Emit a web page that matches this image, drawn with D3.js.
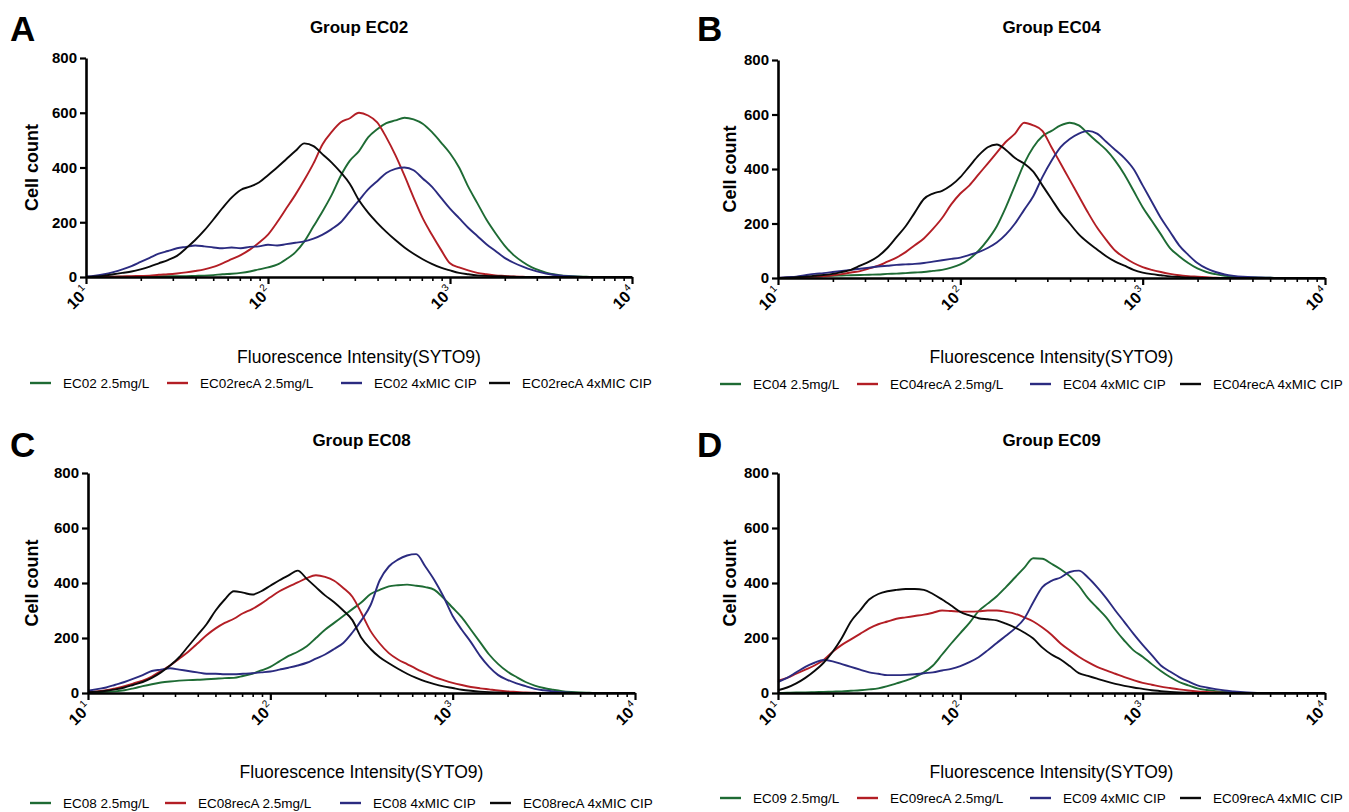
<!DOCTYPE html>
<html><head><meta charset="utf-8">
<script src="https://cdn.jsdelivr.net/npm/d3@7"></script>
<style>
body{margin:0;background:#fff}
svg{display:block;font-family:"Liberation Sans",Arial,Helvetica,sans-serif}
</style></head><body>
<svg id="chart" width="1349" height="812"></svg>
<script>
// histogram bin positions, log10(fluorescence intensity)
const binExponents = [1.00,1.05,1.10,1.15,1.20,1.25,1.30,1.35,1.40,1.45,
  1.50,1.55,1.60,1.65,1.70,1.75,1.80,1.85,1.90,1.95,
  2.00,2.05,2.10,2.15,2.20,2.25,2.30,2.35,2.40,2.45,
  2.50,2.55,2.60,2.65,2.70,2.75,2.80,2.85,2.90,2.95,
  3.00,3.05,3.10,3.15,3.20,3.25,3.30,3.35,3.40,3.45,
  3.50,3.55,3.60,3.65,3.70,3.75,3.80,3.85,3.90,3.95,4.00];

const groups = ["EC02","EC04","EC08","EC09"];
const conditions = [" 2.5mg/L","recA 2.5mg/L"," 4xMIC CIP","recA 4xMIC CIP"];
const colors = ["#1e6b34","#b31e25","#2b2b80","#0a0a0a"];

// Group EC02
const ec02_25 = [0,0,0,1,1,1,2,2,2,3, 3,3,4,5,7,10,12,15,20,28, 35,45,65,90,130,185,240,300,370,425, 460,510,540,562,572,582,576,560,530,492, 452,400,330,270,210,160,115,80,55,35, 22,12,7,4,2,1,0,0,0,0, 0];
const ec02recA_25 = [0,0,1,1,2,3,4,5,8,10, 13,17,22,28,37,50,65,80,100,125, 155,200,250,300,355,415,485,530,565,580, 600,590,565,510,445,370,290,215,155,100, 50,35,24,15,10,6,4,2,1,0, 0,0,0,0,0,0,0,0,0,0, 0];
const ec02_cip = [2,5,10,18,28,40,55,70,85,95, 105,110,115,112,108,105,108,105,110,112, 118,115,120,125,130,140,155,175,200,240, 280,320,350,380,395,400,390,360,330,290, 250,215,180,150,120,95,70,52,38,26, 17,10,6,3,1,0,0,0,0,0, 0];
const ec02recA_cip = [0,2,5,10,15,20,28,38,50,62, 77,105,135,170,210,252,290,318,330,345, 372,400,430,460,488,478,448,418,382,340, 280,235,198,165,135,108,85,65,48,34, 24,15,10,6,4,3,2,1,0,0, 0,0,0,0,0,0,0,0,0,0, 0];

// Group EC04
const ec04_25 = [0,1,2,3,5,6,8,9,10,11, 12,13,15,16,18,20,22,26,30,38, 50,70,100,140,190,260,340,420,480,520, 540,560,570,560,530,500,470,430,380,320, 260,210,160,110,80,55,35,22,14,8, 5,3,2,1,1,0,0,0,0,0, 0];
const ec04recA_25 = [0,1,2,3,5,7,10,14,20,25, 35,45,60,75,95,120,145,180,220,270, 310,340,380,420,460,500,530,570,560,540, 480,420,360,300,240,185,140,100,75,55, 40,30,22,15,10,7,5,3,1,0, 0,0,0,0,0,0,0,0,0,0, 0];
const ec04_cip = [0,3,5,10,15,18,22,26,30,34, 38,42,45,48,50,52,55,60,65,70, 75,85,95,110,130,160,200,250,300,370, 430,480,510,530,540,530,500,470,440,400, 340,280,220,170,120,85,55,35,22,13, 8,5,3,2,1,0,0,0,0,0, 0];
const ec04recA_cip = [0,1,3,5,8,11,15,22,30,45, 60,80,110,150,190,240,290,310,320,340, 370,410,450,480,490,470,440,420,390,340, 290,240,200,160,130,105,80,60,45,30, 20,14,10,6,4,2,1,0,0,0, 0,0,0,0,0,0,0,0,0,0, 0];

// Group EC08
const ec08_25 = [2,3,4,6,10,17,25,32,38,42, 45,47,48,50,52,54,55,62,70,82, 95,115,135,150,170,200,230,255,280,305, 330,360,375,388,392,394,390,385,375,345, 310,275,230,185,140,105,78,58,40,27, 18,12,7,4,2,1,0,0,0,0, 0];
const ec08recA_25 = [3,6,10,17,25,35,45,60,80,100, 125,150,180,210,235,255,270,290,305,325, 348,370,387,402,418,428,422,408,382,350, 290,225,180,145,122,105,88,72,58,47, 37,29,22,17,13,9,6,4,2,1, 0,0,0,0,0,0,0,0,0,0, 0];
const ec08_cip = [8,14,20,30,40,52,65,80,85,90, 85,80,75,70,70,68,68,70,72,75, 78,85,92,100,110,125,140,160,182,220, 265,320,410,460,485,500,505,460,410,350, 280,230,185,135,95,65,48,35,25,15, 10,6,3,1,0,0,0,0,0,0, 0];
const ec08recA_cip = [3,5,8,13,20,30,40,55,75,100, 130,170,210,250,300,340,370,365,358,370, 390,410,428,445,415,385,355,330,300,265, 200,160,130,108,88,70,55,42,32,24, 18,12,8,5,3,2,1,0,0,0, 0,0,0,0,0,0,0,0,0,0, 0];

// Group EC09
const ec09_25 = [0,1,2,2,3,4,5,6,8,10, 13,17,25,35,45,58,75,100,140,180, 218,255,298,325,352,385,420,455,490,488, 470,450,425,390,345,310,275,230,190,155, 132,105,80,58,40,28,17,11,7,4, 2,1,0,0,0,0,0,0,0,0, 0];
const ec09recA_25 = [45,55,70,85,100,120,150,175,195,215, 235,250,260,270,275,280,285,292,300,298, 296,296,297,300,300,295,288,275,260,238, 212,180,155,132,112,95,82,70,58,47, 37,30,23,18,13,9,6,4,2,1, 0,0,0,0,0,0,0,0,0,0, 0];
const ec09_cip = [40,55,75,95,110,120,115,105,95,85, 75,70,65,65,66,68,72,75,82,88, 98,112,130,155,182,208,235,270,330,385, 408,420,440,445,420,385,345,300,258,215, 175,138,100,78,58,42,28,20,14,9, 6,3,1,0,0,0,0,0,0,0, 0];
const ec09recA_cip = [10,20,35,55,80,110,150,200,260,300, 340,360,370,375,378,378,375,360,340,318, 295,282,272,268,264,252,238,220,198,165, 140,122,98,72,62,52,42,33,26,20, 15,10,7,4,2,1,0,0,0,0, 0,0,0,0,0,0,0,0,0,0, 0];

const groupSeries = [
  [ec02_25, ec02recA_25, ec02_cip, ec02recA_cip],
  [ec04_25, ec04recA_25, ec04_cip, ec04recA_cip],
  [ec08_25, ec08recA_25, ec08_cip, ec08recA_cip],
  [ec09_25, ec09recA_25, ec09_cip, ec09recA_cip]
];

const yTicks = [0,200,400,600,800];
const xMajorTicks = [10,100,1000,10000];
const xMinorTicks = [20,30,40,50,60,70,80,90,200,300,400,500,600,700,800,900,2000,3000,4000,5000,6000,7000,8000,9000];
const panelLetters = ["A","B","C","D"];
const yTitle = "Cell count";
const xTitle = "Fluorescence Intensity(SYTO9)";

// layout
const layout = [
  {x0:86,  x1:632,  yTop:58,  yBot:277, letterX:10,  letterY:41,  titleY:33,  yLabelX:38,  xLabelY:363, legendY:383, legendX:[30,167,341,489]},
  {x0:778, x1:1325, yTop:60,  yBot:278, letterX:697, letterY:41,  titleY:33,  yLabelX:736, xLabelY:363, legendY:384, legendX:[720,857,1030,1180]},
  {x0:88,  x1:635,  yTop:473, yBot:693, letterX:10,  letterY:457, titleY:446, yLabelX:38,  xLabelY:778, legendY:803, legendX:[30,165,340,490]},
  {x0:778, x1:1325, yTop:473, yBot:693, letterX:697, letterY:457, titleY:446, yLabelX:736, xLabelY:778, legendY:798, legendX:[720,857,1030,1180]}
];

const svg = d3.select("#chart");

groups.forEach((grp, gi) => {
  const L = layout[gi];
  const g = svg.append("g");
  const x = d3.scaleLog().domain([10, 10000]).range([L.x0, L.x1]);
  const y = d3.scaleLinear().domain([0, 800]).range([L.yBot, L.yTop]);

  g.append("text").attr("x", L.letterX).attr("y", L.letterY)
    .attr("font-size", 35).attr("font-weight", "bold").text(panelLetters[gi]);
  g.append("text").attr("x", (L.x0 + L.x1) / 2).attr("y", L.titleY)
    .attr("text-anchor", "middle").attr("font-size", 17).attr("font-weight", "bold")
    .text("Group " + grp);
  g.append("text").attr("transform", `translate(${L.yLabelX},${(L.yTop + L.yBot) / 2}) rotate(-90)`)
    .attr("text-anchor", "middle").attr("font-size", 18).attr("font-weight", "bold").text(yTitle);
  g.append("text").attr("x", (L.x0 + L.x1) / 2).attr("y", L.xLabelY)
    .attr("text-anchor", "middle").attr("font-size", 17.5).text(xTitle);

  const line = d3.line()
    .x((d, i) => x(Math.pow(10, binExponents[i])))
    .y(d => y(d))
    .curve(d3.curveMonotoneX);
  groupSeries[gi].forEach((vals, si) => {
    g.append("path").datum(vals).attr("d", line)
      .attr("fill", "none").attr("stroke", colors[si]).attr("stroke-width", 1.9)
      .attr("stroke-linejoin", "round");
  });

  const ya = g.append("g").attr("transform", `translate(${L.x0},0)`)
    .call(d3.axisLeft(y).tickValues(yTicks).tickSize(6).tickPadding(3).tickSizeOuter(0));
  ya.select(".domain").attr("stroke-width", 2.6).attr("stroke", "#000");
  ya.selectAll(".tick line").attr("stroke-width", 2.2);
  ya.selectAll(".tick text").attr("font-size", 15).attr("font-weight", "bold")
    .attr("font-family", "'Liberation Sans',Arial,sans-serif").attr("fill", "#000");

  const xm = g.append("g").attr("transform", `translate(0,${L.yBot})`)
    .call(d3.axisBottom(x).tickValues(xMinorTicks).tickSize(4).tickFormat(""));
  xm.select(".domain").remove();
  xm.selectAll(".tick line").attr("stroke-width", 1.6);
  const xa = g.append("g").attr("transform", `translate(0,${L.yBot})`)
    .call(d3.axisBottom(x).tickValues(xMajorTicks).tickSize(7).tickSizeOuter(0).tickFormat(""));
  xa.select(".domain").attr("stroke-width", 2.6).attr("stroke", "#000");
  xa.selectAll(".tick line").attr("stroke-width", 2.2);
  xa.selectAll(".tick").each(function(d) {
    const t = d3.select(this).append("text")
      .attr("transform", "translate(4,16) rotate(-45)")
      .attr("text-anchor", "end").attr("fill", "#000")
      .attr("font-family", "'Liberation Sans',Arial,sans-serif");
    t.append("tspan").attr("font-size", 16).attr("font-weight", "bold").text("10");
    t.append("tspan").attr("font-size", 10).attr("dy", -7).attr("dx", 1).text(String(Math.round(Math.log10(d))));
  });

  conditions.forEach((c, si) => {
    const lx = L.legendX[si];
    g.append("line").attr("x1", lx).attr("x2", lx + 21)
      .attr("y1", L.legendY).attr("y2", L.legendY)
      .attr("stroke", colors[si]).attr("stroke-width", 2.4);
    g.append("text").attr("x", lx + 33).attr("y", L.legendY + 5)
      .attr("font-size", 13.5).text(grp + c);
  });
});
</script>
</body></html>
